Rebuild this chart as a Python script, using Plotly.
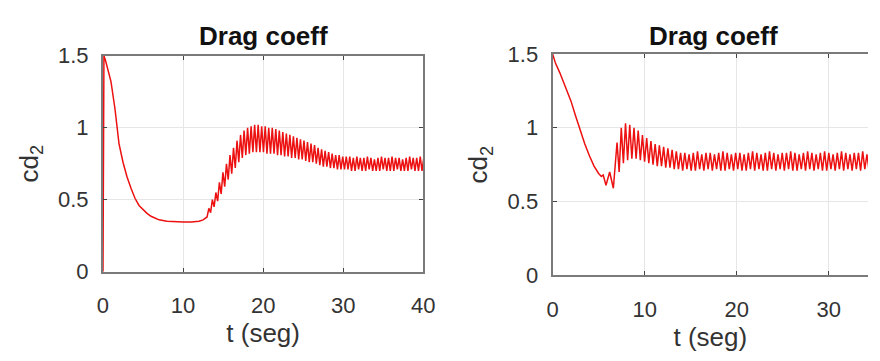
import numpy as np
import plotly.graph_objects as go

# ---- Left panel: drag coefficient cd2, case 1 ----
left_t_smooth = [0.0, 0.12, 0.3, 0.6, 1.0, 1.5, 2.0, 2.5, 3.0, 3.5, 4.0, 4.5, 5.0,
                 5.5, 6.0, 7.0, 8.0, 9.0, 10.0, 11.0, 12.0, 12.5, 12.8]
left_cd_smooth = [0.0, 1.5, 1.47, 1.40, 1.32, 1.13, 0.89, 0.76, 0.66, 0.58, 0.51, 0.46, 0.43,
                  0.405, 0.385, 0.36, 0.35, 0.345, 0.345, 0.345, 0.35, 0.36, 0.37]
# oscillating part, sampled every half period from t = 13.0 s
left_osc_t0 = 13.0
left_osc_dt = 0.22
left_cd_osc = [
    0.38, 0.44, 0.41, 0.50, 0.45, 0.55, 0.49, 0.62, 0.54, 0.69,
    0.59, 0.75, 0.64, 0.81, 0.68, 0.86, 0.72, 0.91, 0.76, 0.95,
    0.79, 0.98, 0.81, 1.00, 0.82, 1.01, 0.83, 1.02, 0.83, 1.02,
    0.83, 1.01, 0.83, 1.01, 0.82, 1.00, 0.82, 1.00, 0.82, 0.99,
    0.81, 0.98, 0.81, 0.97, 0.80, 0.96, 0.80, 0.95, 0.79, 0.94,
    0.79, 0.93, 0.78, 0.92, 0.78, 0.91, 0.77, 0.90, 0.76, 0.89,
    0.76, 0.88, 0.75, 0.86, 0.74, 0.85, 0.73, 0.84, 0.73, 0.83,
    0.72, 0.82, 0.72, 0.81, 0.71, 0.81, 0.71, 0.80, 0.71, 0.80,
    0.71, 0.80, 0.70, 0.79, 0.70, 0.80, 0.71, 0.79, 0.70, 0.79,
    0.70, 0.80, 0.71, 0.79, 0.70, 0.78, 0.70, 0.79, 0.70, 0.80,
    0.71, 0.79, 0.70, 0.79, 0.70, 0.80, 0.70, 0.79, 0.71, 0.79,
    0.70, 0.78, 0.70, 0.79, 0.70, 0.80, 0.71, 0.79, 0.70, 0.79,
    0.70, 0.80, 0.70, 0.79,
]

# ---- Right panel: drag coefficient cd2, case 2 ----
right_t_smooth = [0.0, 0.3, 0.8, 1.2, 1.6, 2.0, 2.5, 3.0, 3.5, 4.0, 4.5, 5.0,
                  5.3, 5.5, 5.8, 6.2, 6.6]
right_cd_smooth = [1.5, 1.44, 1.37, 1.31, 1.25, 1.18, 1.08, 0.98, 0.89, 0.81, 0.74, 0.69,
                   0.67, 0.68, 0.61, 0.70, 0.59]
right_osc_t0 = 7.0
right_osc_dt = 0.23
right_cd_osc = [
    0.90, 0.70, 1.00, 0.76, 1.03, 0.78, 1.02, 0.79, 1.00, 0.79,
    0.98, 0.78, 0.95, 0.77, 0.93, 0.76, 0.91, 0.75, 0.89, 0.74,
    0.88, 0.74, 0.87, 0.73, 0.86, 0.73, 0.85, 0.72, 0.84, 0.72,
    0.83, 0.71, 0.83, 0.72, 0.82, 0.71, 0.83, 0.71, 0.84, 0.72,
    0.82, 0.71, 0.83, 0.72, 0.83, 0.71, 0.82, 0.72, 0.83, 0.71,
    0.84, 0.71, 0.83, 0.72, 0.82, 0.71, 0.83, 0.72, 0.83, 0.71,
    0.82, 0.71, 0.83, 0.72, 0.84, 0.71, 0.83, 0.72, 0.82, 0.71,
    0.83, 0.71, 0.84, 0.72, 0.83, 0.71, 0.82, 0.72, 0.83, 0.71,
    0.83, 0.72, 0.84, 0.71, 0.83, 0.71, 0.82, 0.72, 0.83, 0.71,
    0.84, 0.72, 0.83, 0.71, 0.82, 0.72, 0.83, 0.71, 0.84, 0.71,
    0.83, 0.72, 0.82, 0.71, 0.83, 0.72, 0.84, 0.71, 0.83, 0.72,
    0.82, 0.71, 0.83, 0.72, 0.83, 0.71, 0.84, 0.72, 0.82, 0.71,
    0.83, 0.72,
]

x_ticks = [0, 10, 20, 30, 40]
y_ticks = [0, 0.5, 1, 1.5]
y_tick_text = ["0", "0.5", "1", "1.5"]
title_text = "Drag coeff"
x_label = "t (seg)"
y_label = "cd<sub>2</sub>"

left_t = list(left_t_smooth) + list(left_osc_t0 + left_osc_dt * np.arange(len(left_cd_osc)))
left_cd = list(left_cd_smooth) + left_cd_osc
right_t = list(right_t_smooth) + list(right_osc_t0 + right_osc_dt * np.arange(len(right_cd_osc)))
right_cd = list(right_cd_smooth) + right_cd_osc

W, H = 880, 361
FONT = "Liberation Sans, Arial, Helvetica, sans-serif"
LINE_RED = "#ec1010"
AXIS_GREY = "#7a7a7a"
GRID_GREY = "#e6e6e6"
TEXT = "#333333"
TICK_SIZE = 22
LABEL_SIZE = 26
TITLE_SIZE = 26

fig = go.Figure()
fig.add_trace(go.Scatter(x=left_t, y=left_cd, mode="lines",
                         line=dict(color=LINE_RED, width=1.5), xaxis="x", yaxis="y",
                         showlegend=False))
fig.add_trace(go.Scatter(x=right_t, y=right_cd, mode="lines",
                         line=dict(color=LINE_RED, width=1.5), xaxis="x2", yaxis="y2",
                         showlegend=False))

common_x = dict(tickmode="array", tickvals=x_ticks, ticks="inside", ticklen=4,
                tickcolor="#444", showgrid=True, gridcolor=GRID_GREY, gridwidth=1,
                showline=True, linecolor=AXIS_GREY, linewidth=2, zeroline=False,
                tickfont=dict(family=FONT, size=TICK_SIZE, color=TEXT),
                title=dict(text=x_label, font=dict(family=FONT, size=LABEL_SIZE, color=TEXT),
                           standoff=2),
                ticklabelstandoff=13)
common_y = dict(tickmode="array", tickvals=y_ticks, ticktext=y_tick_text, ticks="inside",
                ticklen=4, tickcolor="#444", showgrid=True, gridcolor=GRID_GREY, gridwidth=1,
                showline=True, linecolor=AXIS_GREY, linewidth=2, zeroline=False,
                range=[0, 1.5],
                tickfont=dict(family=FONT, size=TICK_SIZE, color=TEXT),
                title=dict(text=y_label, font=dict(family=FONT, size=LABEL_SIZE, color=TEXT),
                           standoff=12),
                ticklabelstandoff=8)

L_X0, L_X1 = 99, 426
L_Y0, L_Y1 = 47, 279
R_X0 = 558
R_Y0, R_Y1 = 45, 283
R_PX_PER_UNIT = 9.4
right_xmax = (W - R_X0) / R_PX_PER_UNIT

fig.update_layout(
    width=W, height=H, autosize=False,
    margin=dict(l=0, r=0, t=0, b=0),
    paper_bgcolor="white", plot_bgcolor="white",
    xaxis=dict(common_x, domain=[L_X0 / W, L_X1 / W], range=[0, 40], mirror="ticks",
               anchor="y"),
    yaxis=dict(common_y, domain=[(H - L_Y1) / H, (H - L_Y0) / H], mirror="ticks",
               anchor="x"),
    xaxis2=dict(common_x, domain=[R_X0 / W, 1.0], range=[0, right_xmax], mirror="ticks",
                anchor="y2"),
    yaxis2=dict(common_y, domain=[(H - R_Y1) / H, (H - R_Y0) / H], mirror=False,
                anchor="x2"),
    annotations=[
        dict(text="<b>%s</b>" % title_text, xref="x", yref="paper", x=20,
             y=(H - 26) / H, yanchor="middle", xanchor="center", showarrow=False,
             font=dict(family=FONT, size=TITLE_SIZE, color="#111")),
        dict(text="<b>%s</b>" % title_text, xref="x2", yref="paper", x=17.5,
             y=(H - 26) / H, yanchor="middle", xanchor="center", showarrow=False,
             font=dict(family=FONT, size=TITLE_SIZE, color="#111")),
    ],
)

fig.write_html("out.html")
